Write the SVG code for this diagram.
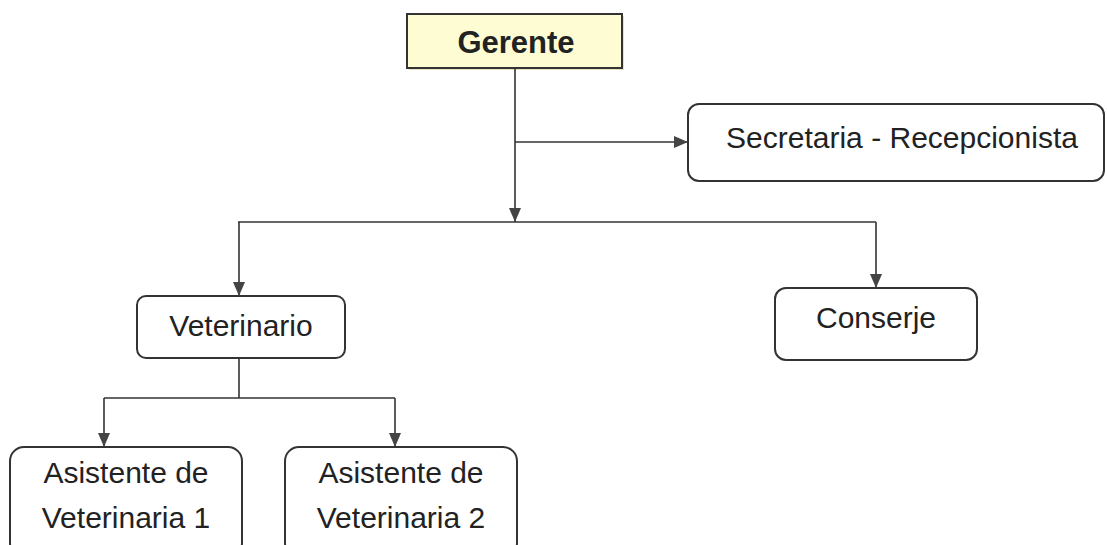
<svg xmlns="http://www.w3.org/2000/svg" width="1107" height="545" viewBox="0 0 1107 545">
<style>
.box{fill:#ffffff;stroke:#333333;stroke-width:2}
.t{font-family:"Liberation Sans",Arial,sans-serif;font-size:30px;fill:#222222;text-anchor:middle}
.b{font-weight:bold;font-size:31px}
.c{stroke:#333333;stroke-width:1.6;fill:none}
</style>
<defs>
<marker id="ah" viewBox="0 0 14 14" refX="14" refY="7" markerWidth="14" markerHeight="14" markerUnits="userSpaceOnUse" orient="auto">
<path d="M0,1 L14,7 L0,13 Z" fill="#444444"/>
</marker>
</defs>
<rect width="1107" height="545" fill="#ffffff"/>
<g id="gerente">
<rect x="409" y="16" width="215" height="54" fill="#e8e4c0"/>
<rect x="407" y="14" width="215" height="54" fill="#fdfcd2" stroke="#333333" stroke-width="2"/>
<text class="t b" x="516" y="53">Gerente</text>
</g>
<g id="secretaria">
<rect class="box" x="688" y="104" width="416" height="77" rx="11"/>
<text class="t" x="902" y="148">Secretaria - Recepcionista</text>
</g>
<g id="veterinario">
<rect class="box" x="137" y="296" width="208" height="62" rx="9"/>
<text class="t" x="241" y="336">Veterinario</text>
</g>
<g id="conserje">
<rect class="box" x="775" y="288" width="202" height="72" rx="11"/>
<text class="t" x="876" y="328">Conserje</text>
</g>
<g id="asistente1">
<rect class="box" x="10" y="447" width="232" height="110" rx="14"/>
<text class="t" x="126" y="483">Asistente de</text>
<text class="t" x="126" y="528">Veterinaria 1</text>
</g>
<g id="asistente2">
<rect class="box" x="285" y="447" width="232" height="110" rx="14"/>
<text class="t" x="401" y="483">Asistente de</text>
<text class="t" x="401" y="528">Veterinaria 2</text>
</g>
<g id="connectors">
<path class="c" d="M515,68 L515,222" marker-end="url(#ah)"/>
<path class="c" d="M515,142 L688,142" marker-end="url(#ah)"/>
<path class="c" d="M238,222 L876,222"/>
<path class="c" d="M239,222 L239,296" marker-end="url(#ah)"/>
<path class="c" d="M876,222 L876,288" marker-end="url(#ah)"/>
<path class="c" d="M239,358 L239,398"/>
<path class="c" d="M104,398 L395,398"/>
<path class="c" d="M104,398 L104,447" marker-end="url(#ah)"/>
<path class="c" d="M395,398 L395,447" marker-end="url(#ah)"/>
</g>
</svg>
